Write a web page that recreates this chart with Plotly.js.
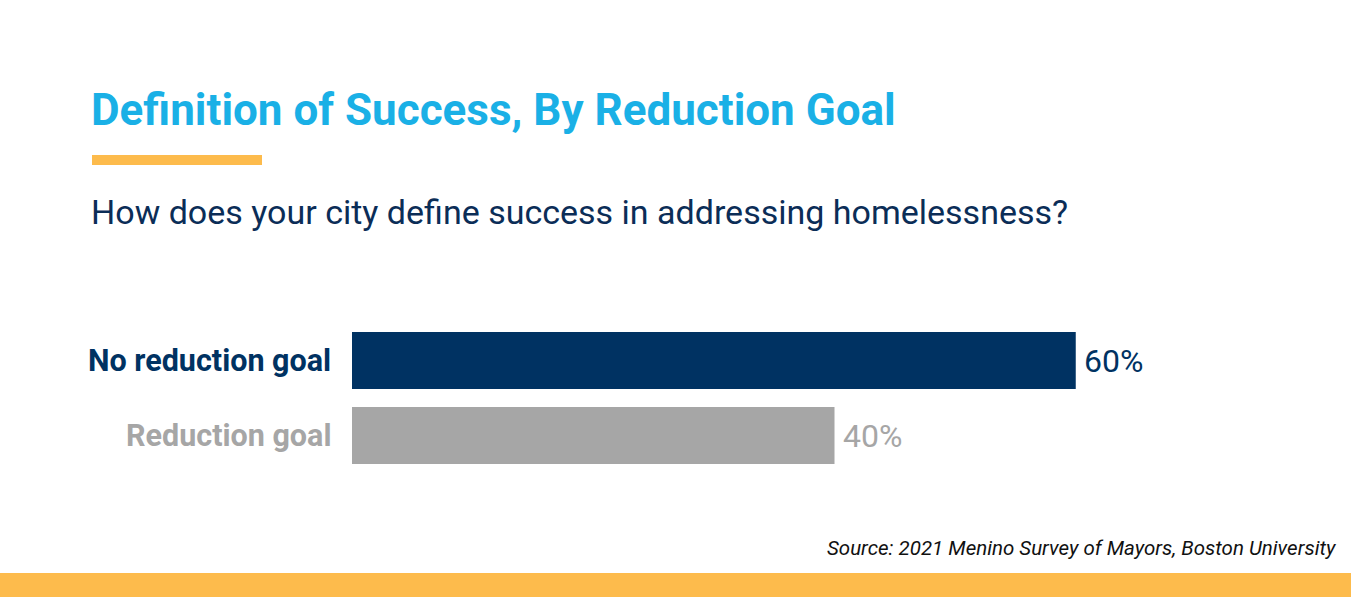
<!DOCTYPE html>
<html><head><meta charset="utf-8">
<script src="https://cdn.plot.ly/plotly-3.0.1.min.js"></script>
<style>html,body{margin:0;padding:0;background:#fff}#chart{width:1351px;height:597px}</style>
</head><body><div id="chart"></div>
<script>
const categories = ["No reduction goal", "Reduction goal"];
const values = [60, 40];
const barColors = ["#003262", "#A6A6A6"];
const valueLabels = ["60%", "40%"];
const titleText = "Definition of Success, By Reduction Goal";
const subtitleText = "How does your city define success in addressing homelessness?";
const sourceText = "Source: 2021 Menino Survey of Mayors, Boston University";

const W = 1351, H = 597;
const L = 352, R = 34, T = 323, B = 124;
const pw = W - L - R, ph = H - T - B;
const px = x => (x - L) / pw;
const py = y => (H - B - y) / ph;
const font = "Roboto, sans-serif";

const annotations = [];
annotations.push({xref:'paper', yref:'paper', x:px(89), y:py(110), xanchor:'left', yanchor:'middle',
  text:'<b>'+titleText+'</b>', showarrow:false, font:{family:font, size:44, color:'#1AB0E6'}});
annotations.push({xref:'paper', yref:'paper', x:px(89), y:py(212), xanchor:'left', yanchor:'middle',
  text:subtitleText, showarrow:false, font:{family:font, size:34, color:'#0B2D57'}});
annotations.push({xref:'paper', yref:'paper', x:px(1339), y:py(548), xanchor:'right', yanchor:'middle',
  text:'<i>'+sourceText+'</i>', showarrow:false, font:{family:font, size:20.5, color:'#111111'}});
categories.forEach((c, i) => {
  annotations.push({xref:'paper', yref:'y', x:px(333), y:c, xanchor:'right', yanchor:'middle',
    text:'<b>'+c+'</b>', showarrow:false, font:{family:font, size:30.5, color:barColors[i]}});
  annotations.push({xref:'x', yref:'y', x:values[i], y:c, xanchor:'left', yanchor:'middle', xshift:6,
    text:valueLabels[i], showarrow:false, font:{family:font, size:32, color:barColors[i]}});
});

const data = [{
  type:'bar', orientation:'h', x:values, y:categories,
  marker:{color:barColors}, hoverinfo:'none'
}];

const layout = {
  width:W, height:H, margin:{l:L, r:R, t:T, b:B},
  paper_bgcolor:'#ffffff', plot_bgcolor:'#ffffff',
  bargap:0.24, showlegend:false,
  xaxis:{range:[0,80], visible:false, fixedrange:true},
  yaxis:{autorange:'reversed', showticklabels:false, showgrid:false, zeroline:false, showline:false, ticks:'', fixedrange:true},
  shapes:[
    {type:'rect', xref:'paper', yref:'paper', x0:px(92), x1:px(262), y0:py(155), y1:py(165), fillcolor:'#FDBB4C', line:{width:0}},
    {type:'rect', xref:'paper', yref:'paper', x0:px(0), x1:px(W), y0:py(573), y1:py(H), fillcolor:'#FDBB4C', line:{width:0}}
  ],
  annotations:annotations
};
Plotly.newPlot('chart', data, layout, {displayModeBar:false, staticPlot:true});
</script></body></html>
